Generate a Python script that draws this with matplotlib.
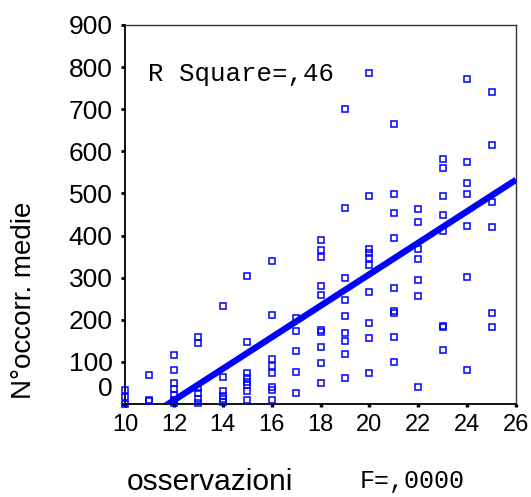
import numpy as np
import matplotlib.pyplot as plt
from matplotlib.ticker import FixedLocator

# observations (x) and the "N°occorr. medie" values read per column
obs_cols = [10, 11, 12, 13, 14, 15, 16, 17, 18, 19, 20, 21, 22, 23, 24, 25]
occ_vals = [
    [33, 16, 0],
    [70, 10, 8],
    [116, 80, 50, 35, 22, 10, 2],
    [160, 145, 38, 25, 13, 2],
    [232, 63, 32, 20, 12, 4],
    [304, 148, 73, 61, 52, 44, 32, 10],
    [340, 211, 108, 90, 73, 40, 34, 10],
    [205, 173, 127, 77, 25],
    [389, 366, 348, 280, 259, 176, 170, 136, 98, 51],
    [700, 465, 300, 248, 209, 168, 149, 119, 61],
    [787, 495, 368, 358, 347, 330, 266, 193, 156, 74],
    [664, 499, 454, 394, 276, 221, 216, 160, 100],
    [462, 433, 367, 344, 294, 256, 40],
    [582, 561, 494, 449, 411, 186, 182, 128],
    [771, 574, 524, 499, 423, 302, 81],
    [742, 615, 480, 421, 217, 182],
]

# regression line
fit_intercept = -440.0
fit_slope = 37.4

x_ticks = [10, 12, 14, 16, 18, 20, 22, 24, 26]
y_ticks = [0, 100, 200, 300, 400, 500, 600, 700, 800, 900]

x = np.concatenate([[c] * len(v) for c, v in zip(obs_cols, occ_vals)])
y = np.concatenate(occ_vals)

fig = plt.figure(figsize=(5.31, 4.97), dpi=100)
ax = fig.add_axes([0.2354, 0.1871, 0.7364, 0.7626])

ax.plot(x, y, linestyle='none', marker='s', markersize=5, mfc='none',
        mec='#0000ff', mew=1.1, clip_on=False, zorder=3)

xl = np.array([10, 26])
ax.plot(xl, fit_intercept + fit_slope * xl, color='#0000ff', lw=4.6,
        solid_capstyle='butt', zorder=4)

ax.set_xlim(10, 26)
ax.set_ylim(0, 900)
ax.xaxis.set_major_locator(FixedLocator(x_ticks))
ax.yaxis.set_major_locator(FixedLocator(y_ticks))
ylabels = [str(v) for v in y_ticks]
ylabels[0] = ''
ax.set_yticklabels(ylabels)
# SPSS puts the "0" label a bit above its tick
ax.annotate('0', xy=(0, 0), xycoords=('axes fraction', 'data'),
            xytext=(-8.6, 10.5), textcoords='offset points',
            ha='right', va='center', fontsize=19, family='Liberation Sans')

for lab in ax.get_xticklabels():
    lab.set_fontsize(17)
    lab.set_family('Liberation Sans')
for lab in ax.get_yticklabels():
    lab.set_fontsize(19)
    lab.set_family('Liberation Sans')
ax.tick_params(axis='y', direction='out', length=3, width=2, pad=6)
ax.tick_params(axis='x', direction='out', length=2.5, width=2.5, pad=5)

for side in ['left', 'bottom']:
    ax.spines[side].set_linewidth(1.3)
for side in ['top', 'right']:
    ax.spines[side].set_linewidth(1.0)
    ax.spines[side].set_color('#333333')

ax.text(0.0588, 0.871, 'R Square=,46', transform=ax.transAxes,
        ha='left', va='center', fontsize=18.5, family='Liberation Mono')

fig.text(24 / 531, 1 - 300 / 497, 'N°occorr. medie', rotation=90,
         ha='center', va='center', fontsize=20, family='Liberation Sans')
fig.text(210 / 531, 1 - 490 / 497, 'osservazioni', ha='center',
         va='baseline', fontsize=21.5, family='Liberation Sans')
fig.text(360 / 531, 1 - 488 / 497, 'F=,0000', ha='left', va='baseline',
         fontsize=18, family='Liberation Mono')

fig.savefig('out.png', dpi=100)
